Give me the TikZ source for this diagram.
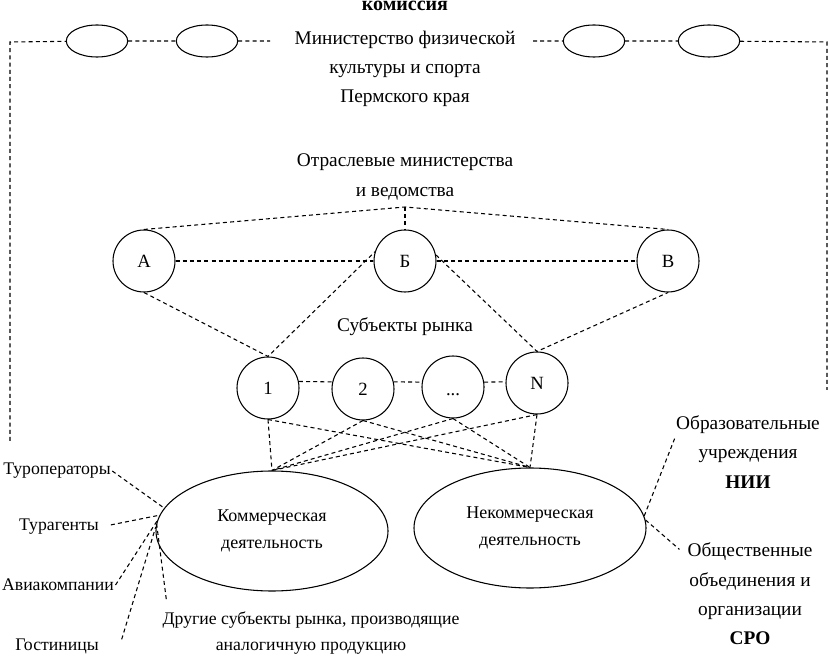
\documentclass[tikz,border=0pt]{standalone}
\usepackage{fontspec}
\setmainfont{Liberation Serif}
\usetikzlibrary{positioning}
\usetikzlibrary{shapes.geometric}

\tikzset{
    dline/.style={dash pattern=on 3pt off 2.4pt, line width=0.8pt},
    orgn/.style={draw, circle, minimum size=46.5pt, inner sep=0pt, line width=0.8pt, font=\fontsize{14}{16}\selectfont},
    oval/.style={draw, ellipse, minimum width=46pt, minimum height=24pt, inner sep=0pt, line width=0.8pt},
    sphere/.style={draw, ellipse, minimum width=174pt, minimum height=90pt, inner sep=0pt, line width=0.8pt, align=center, font=\fontsize{13.5}{20}\selectfont},
    lbl/.style={align=center, inner sep=1pt, font=\fontsize{14.5}{22}\selectfont},
    side/.style={lbl, font=\fontsize{13.3}{20}\selectfont},
}

\begin{document}
\begin{tikzpicture}[x=0.75pt, y=-0.75pt]
    \useasboundingbox (0,0) rectangle (829,659);

    % commission and the ministry
    \node[lbl, anchor=base, font=\bfseries\fontsize{15}{22}\selectfont] (kom) at (405,11) {комиссия};
    \node[lbl] (minsport) at (405,69) {Министерство физической\\культуры и спорта\\Пермского края};

    \node[oval] (o1) at (97,41) {};
    \node[oval] (o2) at (207,41) {};
    \node[oval] (o3) at (594,41) {};
    \node[oval] (o4) at (709,41) {};

    \coordinate (tl) at (10,42);
    \coordinate (bl) at (10,441);
    \coordinate (tr) at (827,42);
    \coordinate (br) at (827,390);
    \coordinate (gapL) at (270,41);
    \coordinate (gapR) at (533,41);

    \draw[dline] (bl) -- (tl) -- (o1) -- (o2) -- (gapL);
    \draw[dline] (gapR) -- (o3) -- (o4) -- (tr) -- (br);

    % branch ministries
    \node[lbl] (otr) at (405,177) {Отраслевые министерства\\и ведомства};
    \coordinate (apex) at (405,207);

    \node[orgn] (A) at (144,261) {А};
    \node[orgn] (B) at (405,261) {Б};
    \node[orgn] (V) at (668,261) {В};

    \draw[dline] (A.north) -- (apex) -- (V.north);
    \draw[dline] (apex) -- (B);
    \draw[dline] (A) -- (B) -- (V);

    % market subjects
    \node[lbl] (subj) at (405,327) {Субъекты рынка};

    \node[orgn] (s1) at (268,388) {1};
    \node[orgn] (s2) at (363,389) {2};
    \node[orgn] (s3) at (453,387) {\vphantom{1}\raisebox{-4pt}{...}};
    \node[orgn] (sN) at (537,383) {N};

    \draw[dline] (s1.12) -- (s2.167);
    \draw[dline] (s2.13) -- (s3.171);
    \draw[dline] (s3.9) -- (sN.178);

    \draw[dline] (A.south) -- (s1.north) -- (B.163);
    \draw[dline] (B.11) -- (sN.north) -- (V.south);

    % activity spheres
    \node[sphere] (comm) at (272,531) {Коммерческая\\деятельность};
    \node[sphere] (ncomm) at (530,528) {Некоммерческая\\деятельность};

    \foreach \s in {s1,s2,s3,sN}{
        \draw[dline] (\s.south) -- (comm.north);
        \draw[dline] (\s.south) -- (ncomm.north);
    }

    % commercial participants
    \node[side] (turop) at (57,471) {Туроператоры};
    \node[side] (turag) at (59,527) {Турагенты};
    \node[side] (avia) at (58,585) {Авиакомпании};
    \node[side] (hotel) at (57,646) {Гостиницы};
    \node[side] (other) at (311,633) {Другие субъекты рынка, производящие\\аналогичную продукцию};

    \draw[dline] (turop.east) -- (comm.168);
    \draw[dline, shorten <=8pt] (turag.east) -- (comm.172);
    \draw[dline] (avia.east) -- (comm.175);
    \draw[dline] ([xshift=16pt,yshift=5pt]hotel.east) -- (comm.178);
    \draw[dline] ([xshift=4pt,yshift=8pt]other.north west) -- (comm.176);

    % non-commercial participants
    \node[lbl] (edu) at (748,452) {Образовательные\\учреждения\\\textbf{НИИ}};
    \node[lbl] (soc) at (750,594) {Общественные\\объединения и\\организации\\\textbf{СРО}};

    \draw[dline] (ncomm.6) -- ([yshift=10pt]edu.west);
    \draw[dline] (ncomm.4) -- ([xshift=-5pt,yshift=-6pt]soc.north west);
\end{tikzpicture}
\end{document}
